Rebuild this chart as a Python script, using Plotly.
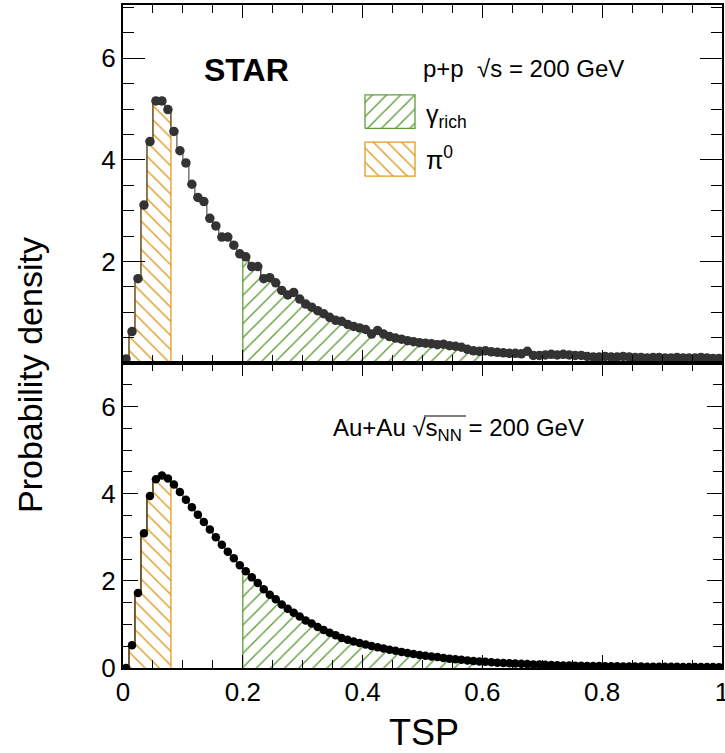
import plotly.graph_objects as go

# ---------------- data ----------------
bin_width = 0.01
pp_density = [
    0.08, 0.62, 1.66, 3.11, 4.36, 5.16, 5.16, 4.99, 4.56, 4.18,
    3.94, 3.52, 3.26, 3.18, 2.85, 2.70, 2.48, 2.48, 2.32, 2.15,
    2.09, 1.90, 1.90, 1.66, 1.68, 1.58, 1.43, 1.34, 1.39, 1.26,
    1.16, 1.10, 1.03, 0.97, 0.90, 0.84, 0.82, 0.76, 0.72, 0.69,
    0.66, 0.57, 0.64, 0.57, 0.52, 0.49, 0.47, 0.44, 0.42, 0.40,
    0.39, 0.38, 0.36, 0.37, 0.34, 0.33, 0.31, 0.27, 0.24, 0.23,
    0.24, 0.22, 0.21, 0.20, 0.19, 0.19, 0.18, 0.23, 0.15, 0.15,
    0.16, 0.17, 0.16, 0.17, 0.16, 0.15, 0.15, 0.13, 0.12, 0.12,
    0.13, 0.12, 0.12, 0.13, 0.12, 0.11, 0.11, 0.10, 0.11, 0.11,
    0.10, 0.10, 0.11, 0.10, 0.10, 0.10, 0.11, 0.10, 0.09, 0.09,
]
auau_density = [
    0.00, 0.52, 1.72, 3.09, 3.95, 4.33, 4.42, 4.35, 4.21, 4.04,
    3.86, 3.69, 3.52, 3.35, 3.18, 3.00, 2.83, 2.67, 2.52, 2.36,
    2.22, 2.08, 1.95, 1.81, 1.68, 1.58, 1.46, 1.36, 1.27, 1.18,
    1.09, 1.02, 0.94, 0.87, 0.81, 0.75, 0.69, 0.65, 0.61, 0.575,
    0.54, 0.505, 0.475, 0.445, 0.42, 0.395, 0.37, 0.345, 0.32, 0.30,
    0.28, 0.265, 0.25, 0.232, 0.215, 0.20, 0.188, 0.175, 0.163, 0.152,
    0.142, 0.132, 0.123, 0.115, 0.108, 0.101, 0.095, 0.089, 0.083, 0.078,
    0.073, 0.068, 0.064, 0.060, 0.057, 0.054, 0.051, 0.048, 0.046, 0.044,
    0.042, 0.040, 0.038, 0.036, 0.035, 0.033, 0.032, 0.031, 0.030, 0.029,
    0.028, 0.027, 0.026, 0.025, 0.024, 0.023, 0.022, 0.021, 0.021, 0.020,
]
pi0_range = (0.0, 0.08)
gamma_rich_range = (0.2, 0.6)
x_ticks = [0, 0.2, 0.4, 0.6, 0.8, 1]
y_ticks_top = [2, 4, 6]
y_ticks_bottom = [0, 2, 4, 6]

# ---------------- helpers ----------------
FONT = "Liberation Sans, Arial, Helvetica, sans-serif"
ORANGE = "#E09A22"
GREEN = "#5E9E3A"

n_bins = len(pp_density)
edges = [round(i * bin_width, 4) for i in range(n_bins + 1)]
centers = [round((edges[i] + edges[i + 1]) / 2, 4) for i in range(n_bins)]

PATTERN = dict(size=10, solidity=0.14, fgopacity=1)


def hatch(vals, rng, shape, color, xa, ya):
    i0 = int(round(rng[0] / bin_width))
    i1 = int(round(rng[1] / bin_width))
    xs = [edges[i0]] + edges[i0:i1] + [edges[i1], edges[i1]]
    ys = [0] + vals[i0:i1] + [vals[i1 - 1], 0]
    return go.Scatter(
        x=xs, y=ys, mode="lines", line=dict(color=color, width=1.3, shape="hv"),
        fill="toself", fillcolor=color,
        fillpattern=dict(shape=shape, fgcolor=color, bgcolor="rgba(255,255,255,0)",
                         **PATTERN),
        xaxis=xa, yaxis=ya, showlegend=False, hoverinfo="skip",
    )


def step(vals, color, xa, ya):
    return go.Scatter(
        x=edges, y=vals + [vals[-1]], mode="lines",
        line=dict(color=color, width=1, shape="hv"),
        xaxis=xa, yaxis=ya, showlegend=False, hoverinfo="skip",
    )


def dots(vals, color, size, xa, ya):
    return go.Scatter(
        x=centers, y=vals, mode="markers",
        marker=dict(color=color, size=size, line=dict(width=0)),
        xaxis=xa, yaxis=ya, showlegend=False,
    )


def swatch(x0, x1, y0, y1, shape, color):
    return go.Scatter(
        x=[x0, x1, x1, x0, x0], y=[y0, y0, y1, y1, y0], mode="lines",
        line=dict(color=color, width=1.3), fill="toself", fillcolor=color,
        fillpattern=dict(shape=shape, fgcolor=color, bgcolor="rgba(255,255,255,0)",
                         **PATTERN),
        xaxis="x", yaxis="y", showlegend=False, hoverinfo="skip",
    )


fig = go.Figure()
# top panel: p+p
fig.add_trace(hatch(pp_density, pi0_range, "\\", ORANGE, "x", "y"))
fig.add_trace(hatch(pp_density, gamma_rich_range, "/", GREEN, "x", "y"))
fig.add_trace(step(pp_density, "#333333", "x", "y"))
fig.add_trace(dots(pp_density, "#333333", 9.5, "x", "y"))
# legend swatches
fig.add_trace(swatch(0.404, 0.4875, 4.62, 5.28, "/", GREEN))
fig.add_trace(swatch(0.404, 0.4875, 3.68, 4.35, "\\", ORANGE))
# bottom panel: Au+Au
fig.add_trace(hatch(auau_density, pi0_range, "\\", ORANGE, "x2", "y2"))
fig.add_trace(hatch(auau_density, gamma_rich_range, "/", GREEN, "x2", "y2"))
fig.add_trace(step(auau_density, "#000000", "x2", "y2"))
fig.add_trace(dots(auau_density, "#000000", 8.5, "x2", "y2"))

W, H = 725, 753
x_dom = [123 / W, 722 / W]
y_split = 1 - 363 / H
top_dom = [y_split, 1 - 5 / H]
bot_dom = [1 - 668 / H, y_split]

common_x = dict(
    range=[0, 1], showline=True, linewidth=2, linecolor="black", mirror="ticks",
    ticks="inside", ticklen=13, tickwidth=1.3, tickcolor="black",
    tickvals=x_ticks, showgrid=False, zeroline=False, domain=x_dom,
    ticklabeloverflow="allow", automargin=False,
    minor=dict(tickmode="linear", tick0=0, dtick=0.05, ticks="inside", ticklen=8,
               tickwidth=1.3, tickcolor="black", showgrid=False),
    tickfont=dict(family=FONT, size=26, color="black"),
)
common_y = dict(
    showline=True, linewidth=2, linecolor="black", mirror="ticks",
    ticks="inside", tickwidth=1.3, tickcolor="black",
    showgrid=False, zeroline=False, ticklabeloverflow="allow", automargin=False,
    tickfont=dict(family=FONT, size=26, color="black"),
)

fig.update_layout(
    width=W, height=H, margin=dict(l=0, r=0, t=0, b=0, autoexpand=False),
    paper_bgcolor="white", plot_bgcolor="white",
    font=dict(family=FONT, color="black"),
    xaxis=dict(common_x, anchor="y", showticklabels=False),
    yaxis=dict(common_y, range=[0, 7.05], domain=top_dom, anchor="x",
               tickvals=y_ticks_top, ticklen=22,
               minor=dict(tickmode="linear", tick0=0, dtick=0.5, ticks="inside",
                          ticklen=11, tickwidth=1.3, tickcolor="black", showgrid=False)),
    xaxis2=dict(common_x, anchor="y2", showticklabels=True),
    yaxis2=dict(common_y, range=[0, 7.0], domain=bot_dom, anchor="x2",
                tickvals=y_ticks_bottom, ticklen=15,
                minor=dict(tickmode="linear", tick0=0, dtick=0.5, ticks="inside",
                           ticklen=9, tickwidth=1.3, tickcolor="black", showgrid=False)),
)

ann = [
    dict(text="Probability density", x=30 / W, y=1 - 375 / H, textangle=-90,
         font=dict(size=34)),
    dict(text="TSP", x=424 / W, y=1 - 732 / H, font=dict(size=36)),
    dict(text="<b>STAR</b>", x=246 / W, y=1 - 70 / H, font=dict(size=32)),
    dict(text="p+p  √s = 200 GeV", x=421 / W, y=1 - 68 / H, xanchor="left",
         font=dict(size=24)),
    dict(text="γ<sub>rich</sub>", x=424 / W, y=1 - 116 / H, xanchor="left",
         font=dict(size=25)),
    dict(text="π<sup>0</sup>", x=424 / W, y=1 - 158 / H, xanchor="left",
         font=dict(size=25)),
    dict(text="Au+Au √s<sub>NN</sub> = 200 GeV",
         x=331 / W, y=1 - 429 / H, xanchor="left", font=dict(size=24)),
]
for a in ann:
    a.setdefault("xanchor", "center")
    fig.add_annotation(xref="paper", yref="paper", yanchor="middle", showarrow=False,
                       **a)

# overline of the square root in "√s_NN"
fig.add_shape(type="line", xref="paper", yref="paper",
              x0=424 / W, x1=466 / W, y0=1 - 416 / H, y1=1 - 416 / H,
              line=dict(color="black", width=1.2))

fig.write_html("out.html")
